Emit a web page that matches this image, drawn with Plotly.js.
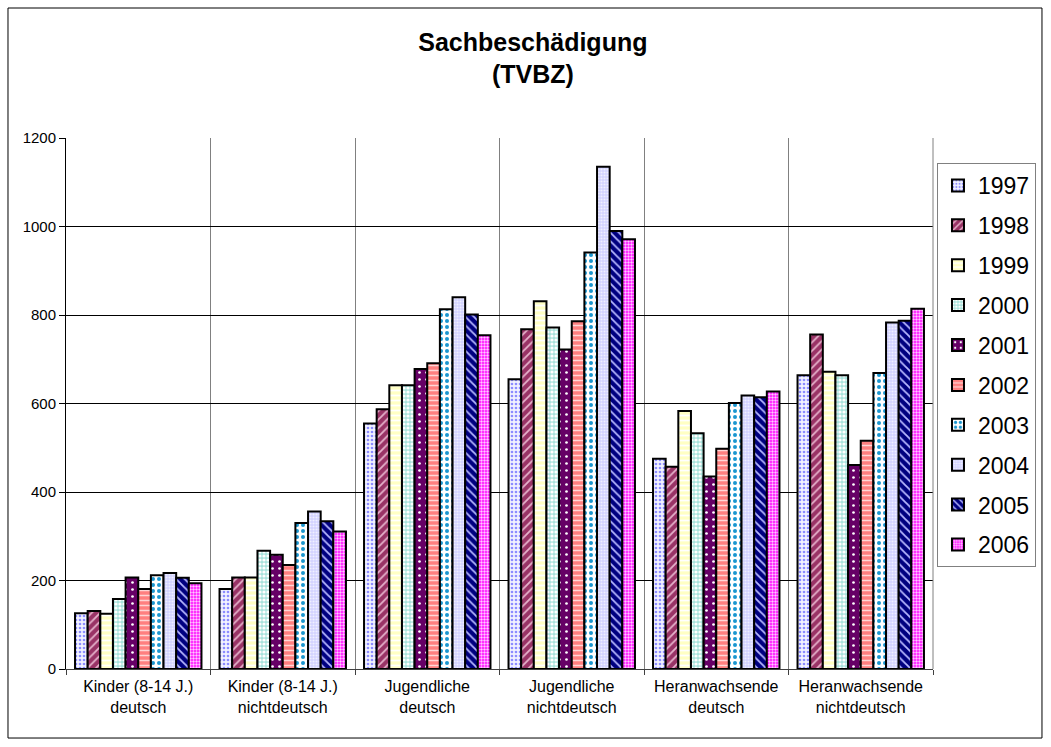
<!DOCTYPE html>
<html>
<head>
<meta charset="utf-8">
<script src="https://cdn.plot.ly/plotly-3.0.1.min.js"></script>
<style>html,body{margin:0;padding:0;background:#fff;}#chart{width:1051px;height:747px;}</style>
</head>
<body>
<div id="chart"></div>
<script>
const categories = ["Kinder (8-14 J.)<br>deutsch", "Kinder (8-14 J.)<br>nichtdeutsch", "Jugendliche<br>deutsch", "Jugendliche<br>nichtdeutsch", "Heranwachsende<br>deutsch", "Heranwachsende<br>nichtdeutsch"];
const years = ["1997", "1998", "1999", "2000", "2001", "2002", "2003", "2004", "2005", "2006"];
const v1997 = [126, 181, 555, 655, 475, 664];
const v1998 = [131, 207, 587, 768, 457, 756];
const v1999 = [125, 207, 641, 831, 583, 672];
const v2000 = [158, 267, 641, 772, 533, 664];
const v2001 = [207, 258, 678, 722, 435, 461];
const v2002 = [181, 235, 691, 786, 498, 516];
const v2003 = [212, 330, 813, 941, 601, 669];
const v2004 = [217, 356, 840, 1135, 618, 783];
const v2005 = [206, 334, 801, 990, 614, 787];
const v2006 = [194, 311, 754, 971, 627, 814];
const values = [v1997, v1998, v1999, v2000, v2001, v2002, v2003, v2004, v2005, v2006];

const styles = [
  {bg: "#f2f2ff", fg: "#8c8cff", shape: ".", size: 4, sol: 0.35},
  {bg: "#993366", fg: "#e6b3cc", shape: "/", size: 6, sol: 0.3},
  {bg: "#ffffc4", fg: "#ffffff", shape: "-", size: 5, sol: 0.35},
  {bg: "#a8e3dc", fg: "#ffffff", shape: ".", size: 4, sol: 0.5},
  {bg: "#660066", fg: "#ffffff", shape: ".", size: 7, sol: 0.12},
  {bg: "#ff8080", fg: "#ffd6d6", shape: "-", size: 5, sol: 0.3},
  {bg: "#ffffff", fg: "#1a96d0", shape: ".", size: 6, sol: 0.35},
  {bg: "#d2d2ff", fg: "#f0f0ff", shape: ".", size: 3, sol: 0.4},
  {bg: "#000080", fg: "#b8b8ff", shape: "\\", size: 6, sol: 0.3},
  {bg: "#ff00ff", fg: "#ffc8ff", shape: ".", size: 3, sol: 0.5}
];

const font = "Liberation Sans, Arial, sans-serif";

const traces = years.map((y, i) => ({
  type: "bar",
  name: y,
  x: categories,
  y: values[i],
  legendgroup: "g" + y,
  marker: {
    color: styles[i].bg,
    line: {color: "#000000", width: 2},
    pattern: {shape: styles[i].shape, bgcolor: styles[i].bg, fgcolor: styles[i].fg, fgopacity: 1, size: styles[i].size, solidity: styles[i].sol, fillmode: "replace"}
  },
  hoverinfo: "name+y"
}));

const layout = {
  width: 1051,
  height: 747,
  paper_bgcolor: "#ffffff",
  plot_bgcolor: "#ffffff",
  margin: {l: 66, r: 118, t: 138, b: 78, pad: 0},
  barmode: "group",
  bargap: 0.125,
  bargroupgap: 0,
  title: {
    text: "<b>Sachbeschädigung<br>(TVBZ)</b>",
    font: {family: font, size: 25, color: "#000"},
    x: 0.507, xref: "container", xanchor: "center",
    y: 0.932, yref: "container", yanchor: "top"
  },
  xaxis: {
    type: "category",
    tickson: "boundaries",
    showgrid: true,
    gridcolor: "#808080",
    gridwidth: 1,
    showline: true,
    linecolor: "#404040",
    linewidth: 1,
    ticks: "outside",
    ticklen: 5,
    tickcolor: "#404040",
    ticklabelstandoff: 3,
    tickfont: {family: font, size: 16, color: "#000"},
    fixedrange: true
  },
  yaxis: {
    range: [0, 1200],
    dtick: 200,
    showgrid: true,
    gridcolor: "#000000",
    gridwidth: 1,
    zeroline: false,
    showline: true,
    linecolor: "#000000",
    linewidth: 1,
    ticks: "outside",
    ticklen: 6,
    tickcolor: "#000",
    tickfont: {family: font, size: 15, color: "#000"},
    fixedrange: true
  },
  legend: {
    x: 1.0046, xanchor: "left",
    y: 0.953, yanchor: "top",
    bgcolor: "#ffffff",
    bordercolor: "#808080",
    borderwidth: 1,
    font: {family: font, size: 23, color: "#000"},
    traceorder: "grouped",
    tracegroupgap: 7,
    itemwidth: 30
  },
  shapes: [
    {type: "rect", xref: "paper", yref: "paper", x0: -0.0669, x1: 1.1257, y0: -0.13, y1: 1.2448, line: {color: "#000", width: 1}, fillcolor: "rgba(0,0,0,0)", layer: "below"},
    {type: "line", xref: "paper", yref: "paper", x0: 1, x1: 1, y0: 0, y1: 1, line: {color: "#808080", width: 1}}
  ],
  showlegend: true
};

Plotly.newPlot("chart", traces, layout, {displayModeBar: false, staticPlot: true});
</script>
</body>
</html>
